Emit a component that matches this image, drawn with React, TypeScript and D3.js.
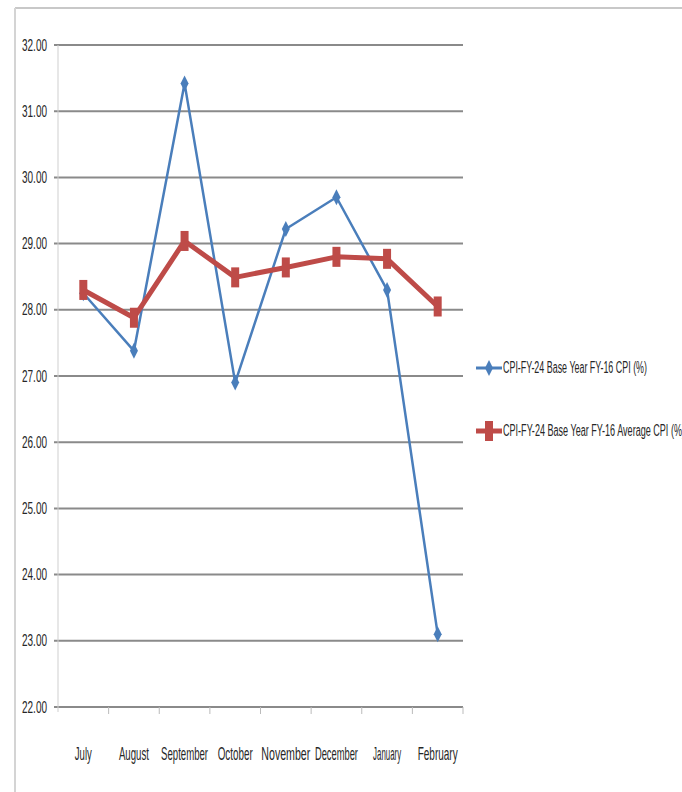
import React from 'react';
import * as d3 from 'd3';

const months = ['July', 'August', 'September', 'October', 'November', 'December', 'January', 'February'];
const cpiValues = [28.25, 27.38, 31.42, 26.9, 29.22, 29.7, 28.3, 23.1];
const avgCpiValues = [28.3, 27.88, 29.04, 28.49, 28.64, 28.8, 28.77, 28.05];
const yTicks = [22, 23, 24, 25, 26, 27, 28, 29, 30, 31, 32];
// squeezed widths of the month labels
const monthLabelWidths = [17, 30, 47, 35, 49, 43, 28, 40];
const seriesNames = ['CPI-FY-24 Base Year FY-16 CPI (%)', 'CPI-FY-24 Base Year FY-16 Average CPI (%)'];

const WIDTH = 682;
const HEIGHT = 792;
const BLUE = '#4a7ebb';
const RED = '#be4b48';
const GRID = '#8a8a8a';
const TEXT = '#262626';

// the source picture is stretched tall, so the labels get a narrow-and-tall scale
interface SqueezedProps {
  x: number;
  y: number;
  width: number;
  text: string;
  fontSize: number;
  sy: number;
  anchor?: 'start' | 'middle' | 'end';
}

const Squeezed: React.FC<SqueezedProps> = ({ x, y, width, text, fontSize, sy, anchor = 'start' }) => {
  const sx = 0.85;
  return (
    <g transform={`translate(${x},${y}) scale(${sx},${sy})`}>
      <text x={0} y={0} fontSize={fontSize} textAnchor={anchor} dominantBaseline="central"
        textLength={width / sx} lengthAdjust="spacingAndGlyphs" fill={TEXT}>
        {text}
      </text>
    </g>
  );
};

const App: React.FC = () => {
  const x = d3.scaleBand<string>().domain(months).range([58, 463]);
  const y = d3.scaleLinear().domain([22, 32]).range([707, 45]);
  const cx = (m: string) => (x(m) as number) + x.bandwidth() / 2;

  const line = d3.line<number>()
    .x((_, i) => cx(months[i]))
    .y(d => y(d));

  const diamond = (px: number, py: number) =>
    `M${px},${py - 8} L${px + 4},${py} L${px},${py + 8} L${px - 4},${py} Z`;

  return (
    <svg width={WIDTH} height={HEIGHT} style={{ position: 'absolute', left: 0, top: 0, background: '#fff' }}
      fontFamily="'Liberation Sans', Arial, sans-serif">
      {/* outer chart frame */}
      <line x1={15} y1={8} x2={WIDTH} y2={8} stroke="#c8c8c8" strokeWidth={2} />
      <line x1={15} y1={8} x2={15} y2={HEIGHT} stroke="#d4d4d4" strokeWidth={2} />

      {/* gridlines + y labels */}
      {yTicks.map(t => (
        <g key={t}>
          <line x1={54} x2={463} y1={y(t)} y2={y(t)} stroke={GRID} strokeWidth={2} />
          <Squeezed x={47} y={y(t)} width={25} text={t.toFixed(2)} fontSize={10} sy={1.7} anchor="end" />
        </g>
      ))}
      <line x1={58} x2={58} y1={45} y2={712} stroke="#cfcfcf" strokeWidth={1} />

      {/* x ticks */}
      {months.map(m => (
        <line key={m} x1={(x(m) as number) + x.bandwidth()} x2={(x(m) as number) + x.bandwidth()}
          y1={707} y2={714} stroke="#bbb" strokeWidth={1} />
      ))}

      {/* x labels */}
      {months.map((m, i) => (
        <Squeezed key={m} x={cx(m)} y={754} width={monthLabelWidths[i]} text={m}
          fontSize={10} sy={1.8} anchor="middle" />
      ))}

      {/* CPI series */}
      <path d={line(cpiValues) || ''} fill="none" stroke={BLUE} strokeWidth={2.5} strokeLinejoin="round" />
      {cpiValues.map((v, i) => (
        <path key={i} d={diamond(cx(months[i]), y(v))} fill={BLUE} />
      ))}

      {/* Average CPI series */}
      <path d={line(avgCpiValues) || ''} fill="none" stroke={RED} strokeWidth={5} strokeLinejoin="round" />
      {avgCpiValues.map((v, i) => (
        <rect key={i} x={cx(months[i]) - 4} y={y(v) - 10} width={8} height={20} fill={RED} />
      ))}

      {/* legend */}
      <g>
        <line x1={476} x2={502} y1={368} y2={368} stroke={BLUE} strokeWidth={3} />
        <path d={diamond(489, 368)} fill={BLUE} />
        <Squeezed x={503} y={368} width={144} text={seriesNames[0]} fontSize={9} sy={1.8} />
        <line x1={476} x2={502} y1={431} y2={431} stroke={RED} strokeWidth={5} />
        <rect x={485} y={421} width={8} height={20} fill={RED} />
        <Squeezed x={503} y={431} width={182} text={seriesNames[1]} fontSize={9} sy={1.8} />
      </g>
    </svg>
  );
};

export default App;
